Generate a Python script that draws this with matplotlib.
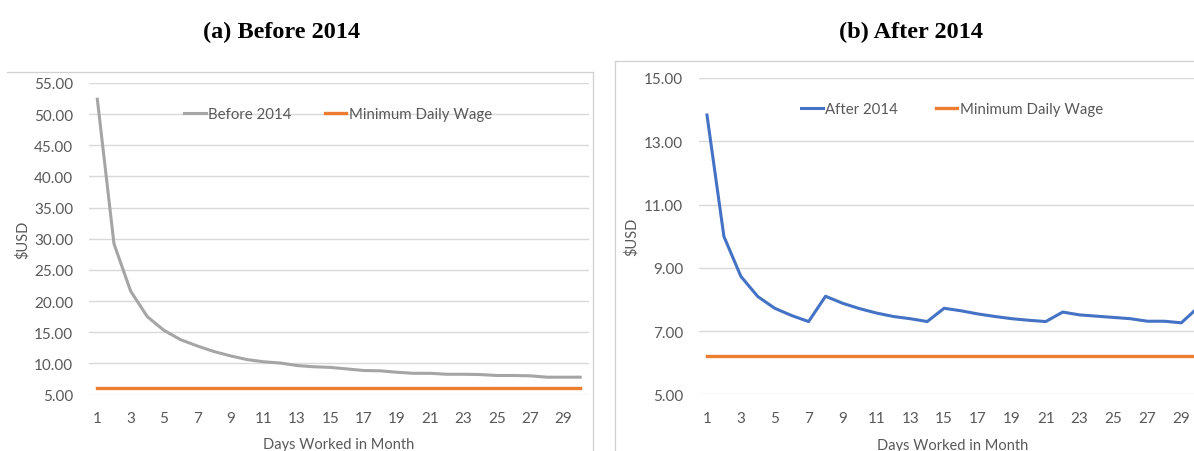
import matplotlib
matplotlib.use("Agg")
import matplotlib.pyplot as plt
from matplotlib.lines import Line2D
from matplotlib.ticker import FormatStrFormatter

# Days worked in a month
days = list(range(1, 31))

# Effective daily pay (USD) before 2014
before_2014 = [52.4, 29.2, 21.6, 17.5, 15.3, 13.8, 12.8, 11.9, 11.2, 10.6,
               10.25, 10.05, 9.65, 9.45, 9.35, 9.1, 8.85, 8.8, 8.57, 8.4,
               8.4, 8.25, 8.25, 8.2, 8.05, 8.05, 8.0, 7.78, 7.78, 7.78]

# Effective daily pay (USD) after 2014
after_2014 = [13.83, 9.99, 8.73, 8.09, 7.72, 7.49, 7.30, 8.10, 7.88, 7.71,
              7.57, 7.46, 7.39, 7.30, 7.72, 7.64, 7.54, 7.46, 7.39, 7.34,
              7.30, 7.60, 7.51, 7.47, 7.43, 7.39, 7.31, 7.31, 7.26, 7.75]

# Minimum daily wage in each period
min_wage_before = [6.1] * len(days)
min_wage_after = [6.2] * len(days)

x_ticks = list(range(1, 31, 2))
y_ticks_before = [5, 10, 15, 20, 25, 30, 35, 40, 45, 50, 55]
y_ticks_after = [5, 7, 9, 11, 13, 15]

titles = ["(a) Before 2014", "(b) After 2014"]

GRAY = "#A5A5A5"
ORANGE = "#ED7D31"
BLUE = "#4472C4"
TEXT = "#595959"
GRID = "#D9D9D9"
FONT = "Lato"

W, H = 1194, 452
fig = plt.figure(figsize=(W / 100, H / 100), dpi=100)


def px_rect(left, right, top, bottom):
    return [left / W, 1 - bottom / H, (right - left) / W, (bottom - top) / H]


def style_axes(ax, yticks, ylim, pad_y):
    ax.set_xlim(0.5, 30.5)
    ax.set_ylim(*ylim)
    ax.set_xticks(x_ticks)
    ax.set_yticks(yticks)
    ax.yaxis.set_major_formatter(FormatStrFormatter("%.2f"))
    for s in ax.spines.values():
        s.set_visible(False)
    ax.grid(axis="y", color=GRID, linewidth=1.0)
    ax.set_axisbelow(True)
    ax.tick_params(axis="both", length=0, labelsize=11, labelcolor=TEXT)
    ax.tick_params(axis="x", pad=12)
    ax.tick_params(axis="y", pad=pad_y)
    for lab in ax.get_xticklabels() + ax.get_yticklabels():
        lab.set_fontfamily(FONT)
    ax.set_xlabel("Days Worked in Month", fontsize=10.5, color=TEXT, fontfamily=FONT)
    ax.set_ylabel("$USD", fontsize=10.5, color=TEXT, fontfamily=FONT)
    ax.xaxis.set_label_coords(0.5, -0.16)
    ax.xaxis.label.set_va("center")
    ax.yaxis.set_label_coords(-0.132, 0.5)
    ax.yaxis.label.set_va("center")


# Left panel: before 2014
ax1 = fig.add_axes(px_rect(89, 588.5, 84, 395.5))
ax1.plot(days, before_2014, color=GRAY, linewidth=2.2, label="Before 2014",
         solid_joinstyle="round")
ax1.plot(days, min_wage_before, color=ORANGE, linewidth=2.4,
         label="Minimum Daily Wage")
style_axes(ax1, y_ticks_before, (5, 55), 11.5)
leg1 = ax1.legend(loc="center", bbox_to_anchor=(338 / W, 1 - 115 / H),
                  bbox_transform=fig.transFigure, ncol=2, frameon=False,
                  handlelength=1.45, handletextpad=0.15, columnspacing=2.2,
                  prop={"family": FONT, "size": 10.8})
for t in leg1.get_texts():
    t.set_color(TEXT)

# Right panel: after 2014
ax2 = fig.add_axes(px_rect(698.5, 1206.7, 79, 395.3))
ax2.plot(days, after_2014, color=BLUE, linewidth=2.2, label="After 2014",
         solid_joinstyle="round")
ax2.plot(days, min_wage_after, color=ORANGE, linewidth=2.4,
         label="Minimum Daily Wage")
style_axes(ax2, y_ticks_after, (5, 15), 11)
ax2.yaxis.set_label_coords(-0.131, 0.5)
leg2 = ax2.legend(loc="center", bbox_to_anchor=(952 / W, 1 - 110 / H),
                  bbox_transform=fig.transFigure, ncol=2, frameon=False,
                  handlelength=1.45, handletextpad=0.15, columnspacing=2.5,
                  prop={"family": FONT, "size": 10.8})
for t in leg2.get_texts():
    t.set_color(TEXT)

# Chart-area borders
frame_kw = dict(color="#D0D0D0", linewidth=0.9, transform=fig.transFigure)
fig.add_artist(Line2D([7 / W, 592.7 / W], [1 - 73.3 / H, 1 - 73.3 / H], **frame_kw))
fig.add_artist(Line2D([592.7 / W, 592.7 / W], [1 - 73.3 / H, 0], **frame_kw))
fig.add_artist(Line2D([615 / W, 1], [1 - 61.7 / H, 1 - 61.7 / H], **frame_kw))
fig.add_artist(Line2D([615 / W, 615 / W], [1 - 61.7 / H, 0], **frame_kw))

# Panel titles
for title, cx in zip(titles, [282, 911]):
    fig.text(cx / W, 1 - 38.5 / H, title, ha="center", va="baseline",
             fontsize=17.5, fontweight="bold", fontfamily="Liberation Serif",
             color="black")

fig.savefig("out.png", dpi=100, facecolor="white")
